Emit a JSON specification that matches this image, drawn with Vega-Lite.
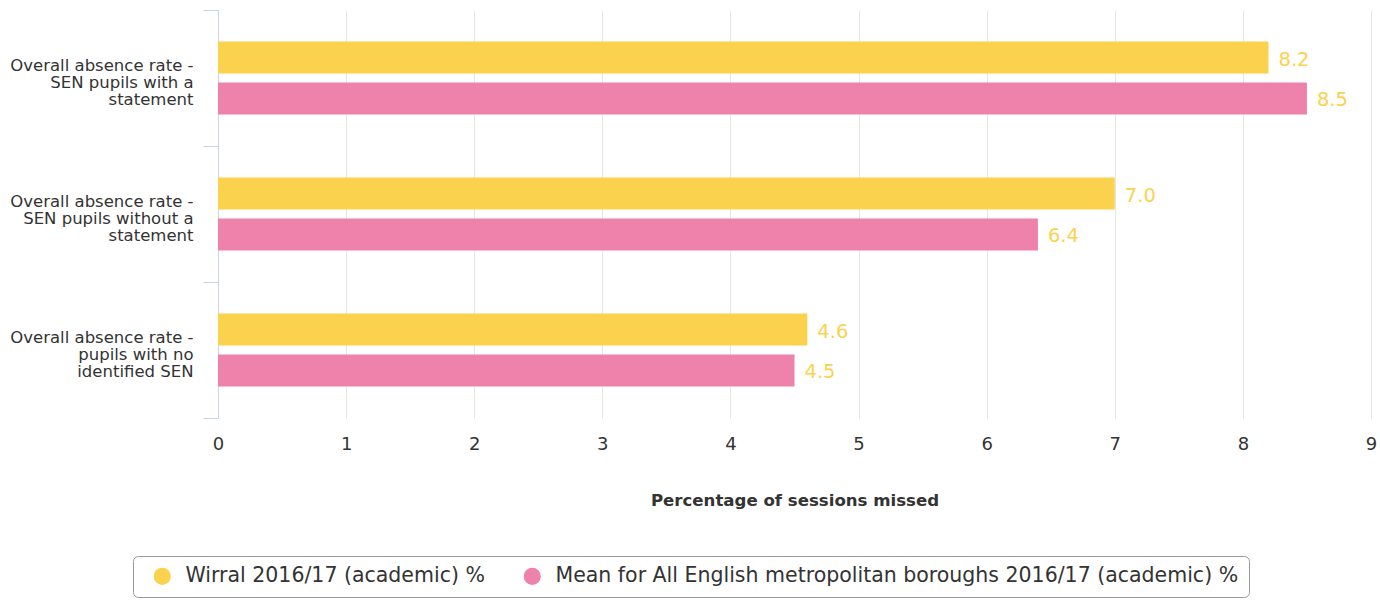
{
  "$schema": "https://vega.github.io/schema/vega-lite/v6.json",
  "autosize": "none",
  "padding": {"left": 218, "top": 10, "right": 9, "bottom": 190},
  "width": 1153,
  "height": 408,
  "background": "white",
  "config": {
    "font": "DejaVu Sans",
    "view": {"stroke": null}
  },
  "data": {
    "values": [
      {"cat": "Overall absence rate -|SEN pupils with a|statement", "series": "Wirral 2016/17 (academic) %", "value": 8.2},
      {"cat": "Overall absence rate -|SEN pupils with a|statement", "series": "Mean for All English metropolitan boroughs 2016/17 (academic) %", "value": 8.5},
      {"cat": "Overall absence rate -|SEN pupils without a|statement", "series": "Wirral 2016/17 (academic) %", "value": 7.0},
      {"cat": "Overall absence rate -|SEN pupils without a|statement", "series": "Mean for All English metropolitan boroughs 2016/17 (academic) %", "value": 6.4},
      {"cat": "Overall absence rate -|pupils with no|identified SEN", "series": "Wirral 2016/17 (academic) %", "value": 4.6},
      {"cat": "Overall absence rate -|pupils with no|identified SEN", "series": "Mean for All English metropolitan boroughs 2016/17 (academic) %", "value": 4.5}
    ]
  },
  "encoding": {
    "y": {
      "field": "cat",
      "type": "nominal",
      "sort": null,
      "scale": {"paddingInner": 0, "paddingOuter": 0},
      "axis": {
        "title": null,
        "labelExpr": "split(datum.label, '|')",
        "labelFontSize": 16.5,
        "labelLineHeight": 17,
        "labelColor": "#333333",
        "labelPadding": 10,
        "labelLimit": 400,
        "labelOffset": -13,
        "domainColor": "#ccd6eb",
        "tickColor": "#ccd6eb",
        "tickSize": 15,
        "tickBand": "extent",
        "grid": false
      }
    },
    "yOffset": {
      "field": "series",
      "type": "nominal",
      "sort": null,
      "scale": {"paddingInner": 0.22, "paddingOuter": 0.77}
    },
    "x": {
      "field": "value",
      "type": "quantitative",
      "scale": {"domain": [0, 9], "nice": false},
      "axis": {
        "title": "Percentage of sessions missed",
        "values": [0, 1, 2, 3, 4, 5, 6, 7, 8, 9],
        "domain": false,
        "ticks": false,
        "grid": true,
        "gridColor": "#e6e6e6",
        "labelFlush": false,
        "labelFontSize": 18,
        "labelColor": "#333333",
        "labelPadding": 17,
        "titleFontSize": 16.6,
        "titleFontWeight": "bold",
        "titleColor": "#333333",
        "titlePadding": 39
      }
    }
  },
  "layer": [
    {
      "mark": {"type": "bar"},
      "encoding": {
        "color": {
          "field": "series",
          "type": "nominal",
          "sort": null,
          "scale": {
            "domain": ["Wirral 2016/17 (academic) %", "Mean for All English metropolitan boroughs 2016/17 (academic) %"],
            "range": ["#fbd24e", "#ee82ab"]
          },
          "legend": {
            "title": null,
            "orient": "none",
            "direction": "horizontal",
            "legendX": -85,
            "legendY": 546,
            "strokeColor": "#999999",
            "fillColor": "white",
            "cornerRadius": 5,
            "padding": 10,
            "symbolOffset": 9,
            "symbolType": "circle",
            "symbolSize": 290,
            "symbolStrokeWidth": 0,
            "labelFontSize": 20.5,
            "labelColor": "#333333",
            "labelOffset": 13,
            "labelLimit": 1000,
            "columnPadding": 28
          }
        }
      }
    },
    {
      "mark": {"type": "text", "align": "left", "baseline": "middle", "dx": 10, "dy": 2, "fontSize": 19.5, "color": "#fbd24e"},
      "encoding": {
        "text": {"field": "value", "type": "quantitative", "format": ".1f"}
      }
    }
  ]
}
